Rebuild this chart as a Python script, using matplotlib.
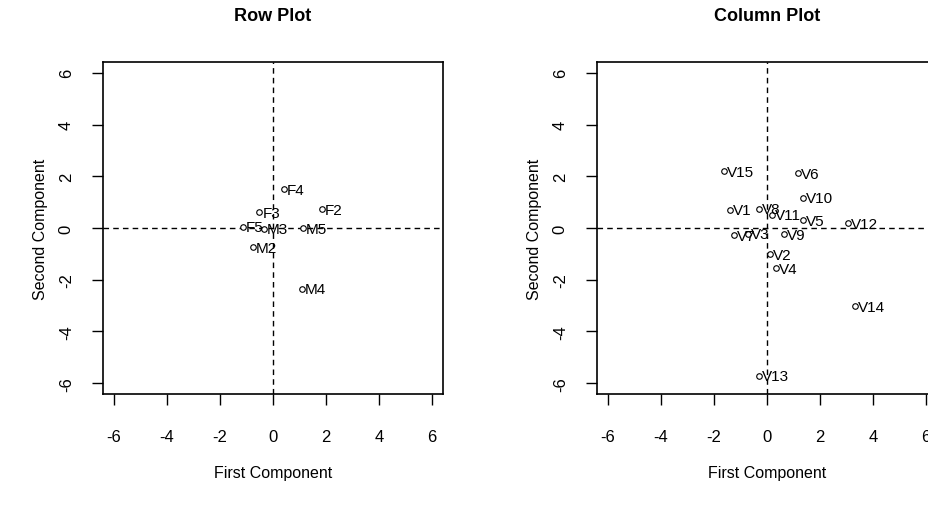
import matplotlib
matplotlib.use("Agg")
import matplotlib.pyplot as plt

plt.rcParams['font.family'] = ['Liberation Sans', 'DejaVu Sans']
plt.rcParams['axes.unicode_minus'] = False

# row plot points
row_names = ['F4', 'F2', 'F3', 'F5', 'M3', 'M5', 'M2', 'M4']
row_x = [0.41, 1.86, -0.51, -1.15, -0.35, 1.15, -0.74, 1.09]
row_y = [1.51, 0.73, 0.60, 0.05, -0.02, -0.01, -0.75, -2.35]

# column plot points
col_names = ['V15', 'V6', 'V10', 'V1', 'V8', 'V11', 'V5', 'V12', 'V7', 'V3',
             'V9', 'V2', 'V4', 'V14', 'V13']
col_x = [-1.62, 1.17, 1.36, -1.39, -0.29, 0.20, 1.36, 3.07, -1.24, -0.73,
         0.66, 0.13, 0.34, 3.32, -0.29]
col_y = [2.21, 2.13, 1.17, 0.71, 0.75, 0.52, 0.30, 0.19, -0.28, -0.22,
         -0.24, -1.02, -1.54, -3.03, -5.71]

ticks = [-6, -4, -2, 0, 2, 4, 6]
lim = 6.42

fig = plt.figure(figsize=(9.29, 5.06), dpi=100)
ax1 = fig.add_axes([103 / 929, 1 - 395 / 506, 340 / 929, 332 / 506])
ax2 = fig.add_axes([597 / 929, 1 - 395 / 506, 340 / 929, 332 / 506])


def draw(ax, names, xs, ys, title):
    ax.axhline(0, color='black', ls=(0, (4, 3)), lw=1)
    ax.axvline(0, color='black', ls=(0, (4, 3)), lw=1)
    ax.plot(xs, ys, 'o', mfc='white', mec='black', ms=4, mew=0.8, ls='none')
    for n, x, y in zip(names, xs, ys):
        ax.annotate(n, (x, y), xytext=(2, -0.5), textcoords='offset points',
                    ha='left', va='center', fontsize=11)
    ax.set_xlim(-lim, lim)
    ax.set_ylim(-lim, lim)
    ax.set_xticks(ticks)
    ax.set_yticks(ticks)
    ax.tick_params(direction='out', length=8, width=1, labelsize=12)
    ax.tick_params(axis='x', pad=17)
    ax.tick_params(axis='y', pad=13)
    for lab in ax.get_yticklabels():
        lab.set_rotation(90)
        lab.set_va('center')
    for s in ax.spines.values():
        s.set_linewidth(1.2)
    ax.set_xlabel('First Component', fontsize=11.5, labelpad=15)
    ax.set_ylabel('Second Component', fontsize=11.5, labelpad=8)
    ax.set_title(title, fontsize=13, fontweight='bold', pad=30)


draw(ax1, row_names, row_x, row_y, 'Row Plot')
draw(ax2, col_names, col_x, col_y, 'Column Plot')

fig.savefig('out.png', dpi=100)
